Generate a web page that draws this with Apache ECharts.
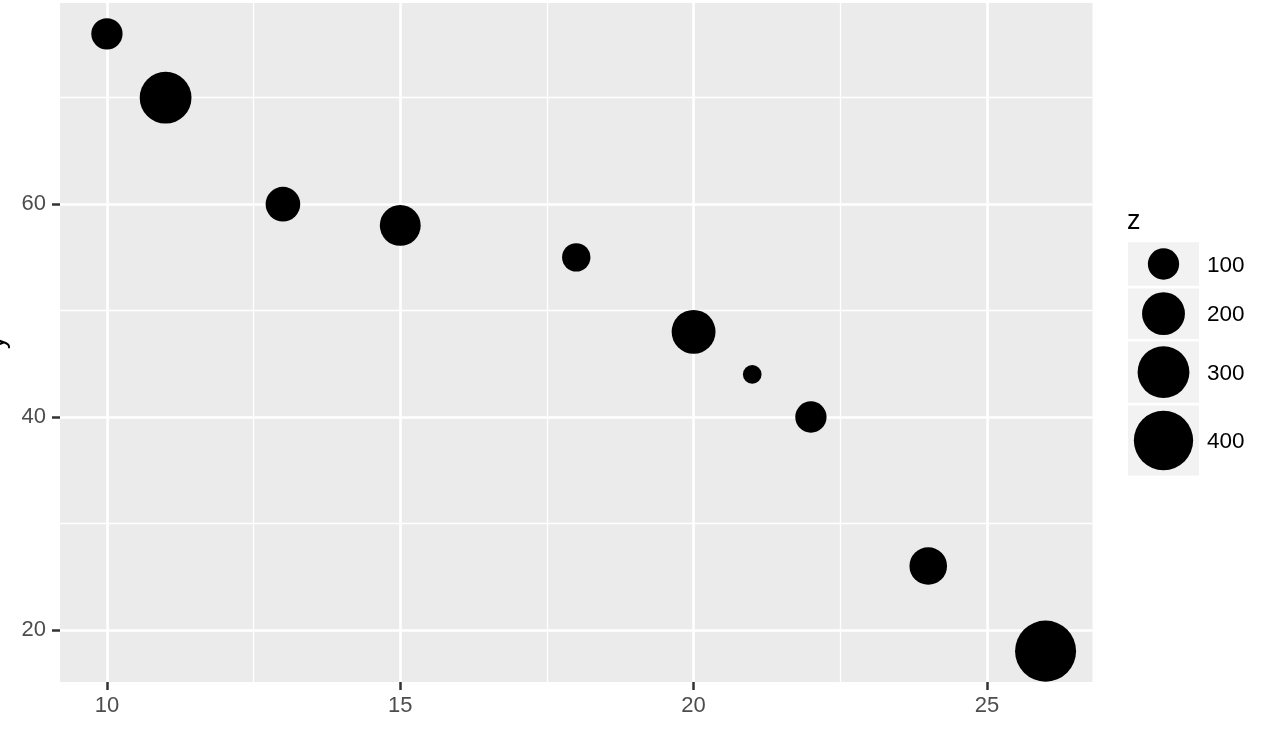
<!DOCTYPE html>
<html>
<head>
<meta charset="utf-8">
<script src="https://cdn.jsdelivr.net/npm/echarts@6/dist/echarts.min.js"></script>
<style>
  html, body { margin: 0; padding: 0; background: #ffffff; }
  #chart { width: 1270px; height: 730px; }
</style>
</head>
<body>
<div id="chart"></div>
<script>
// ---- data ----
const xValues = [10, 11, 13, 15, 18, 20, 21, 22, 24, 26];
const yValues = [76, 70, 60, 58, 55, 48, 44, 40, 26, 18];
const zValues = [100, 300, 125, 180, 80, 210, 30, 100, 150, 425];
const xTicks = [10, 15, 20, 25];
const yTicks = [20, 40, 60];
const xMinor = [12.5, 17.5, 22.5];
const yMinor = [30, 50, 70];
const legendValues = [100, 200, 300, 400];
const legendTitle = 'z';
const yTitle = 'y';

// ---- styling / layout ----
const FONT = '"Liberation Sans", Arial, Helvetica, sans-serif';
function sizeOf(z) { return 3.3 + 2.8 * Math.sqrt(z); }

const chart = echarts.init(document.getElementById('chart'), null, { renderer: 'canvas' });

const points = xValues.map((x, i) => [x, yValues[i], zValues[i]]);

const gridLines = [];
xTicks.forEach(v => gridLines.push({ xAxis: v, lineStyle: { color: '#ffffff', width: 2.6, type: 'solid' } }));
xMinor.forEach(v => gridLines.push({ xAxis: v, lineStyle: { color: '#ffffff', width: 1.3, type: 'solid' } }));
yTicks.forEach(v => gridLines.push({ yAxis: v, lineStyle: { color: '#ffffff', width: 2.6, type: 'solid' } }));
yMinor.forEach(v => gridLines.push({ yAxis: v, lineStyle: { color: '#ffffff', width: 1.3, type: 'solid' } }));

// legend (size key) built as graphics
const graphics = [];
const keyX = 1128, keyW = 71, keyGap = 2.7;
let keyY = 242.3;
graphics.push({
  type: 'text',
  style: { text: legendTitle, x: 1127, y: 222, font: '27px ' + FONT, fill: '#000000', align: 'left', verticalAlign: 'middle' }
});
legendValues.forEach(v => {
  const d = sizeOf(v);
  const h = Math.max(43.4, 1.2 * d - 1);
  const cy = keyY + h / 2;
  graphics.push({ type: 'rect', shape: { x: keyX, y: keyY, width: keyW, height: h }, style: { fill: '#F2F2F2' } });
  graphics.push({ type: 'circle', shape: { cx: keyX + keyW / 2, cy: cy, r: d / 2 }, style: { fill: '#000000' } });
  graphics.push({
    type: 'text',
    style: { text: String(v), x: 1207, y: cy + 1.5, font: '22.5px ' + FONT, fill: '#000000', align: 'left', verticalAlign: 'middle' }
  });
  keyY += h + keyGap;
});

const option = {
  animation: false,
  backgroundColor: '#ffffff',
  grid: {
    left: 60, top: 3, width: 1032.5, height: 679,
    show: true, backgroundColor: '#EBEBEB', borderWidth: 0,
    containLabel: false, outerBoundsMode: 'none'
  },
  xAxis: {
    type: 'value', min: 9.2, max: 26.8,
    splitLine: { show: false },
    axisLine: { show: false },
    axisTick: { show: true, customValues: xTicks, length: 8, lineStyle: { color: '#333333', width: 2.5 } },
    axisLabel: { customValues: xTicks, fontSize: 22, fontFamily: FONT, color: '#4D4D4D', margin: 13 }
  },
  yAxis: {
    type: 'value', min: 15.1, max: 78.9,
    name: yTitle, nameLocation: 'middle', nameGap: 50, nameRotate: 90,
    nameTextStyle: { fontSize: 27, fontFamily: FONT, color: '#000000' },
    splitLine: { show: false },
    axisLine: { show: false },
    axisTick: { show: true, customValues: yTicks, length: 8, lineStyle: { color: '#333333', width: 2.5 } },
    axisLabel: { customValues: yTicks, fontSize: 22, fontFamily: FONT, color: '#4D4D4D', margin: 14 }
  },
  series: [
    {
      type: 'scatter', data: [], z: 1, silent: true,
      markLine: { silent: true, symbol: ['none', 'none'], label: { show: false }, animation: false, data: gridLines }
    },
    {
      type: 'scatter', zlevel: 1, z: 3,
      data: points,
      symbol: 'circle',
      symbolSize: val => sizeOf(val[2]),
      itemStyle: { color: '#000000', opacity: 1 }
    }
  ],
  graphic: graphics
};
chart.setOption(option);
</script>
</body>
</html>
